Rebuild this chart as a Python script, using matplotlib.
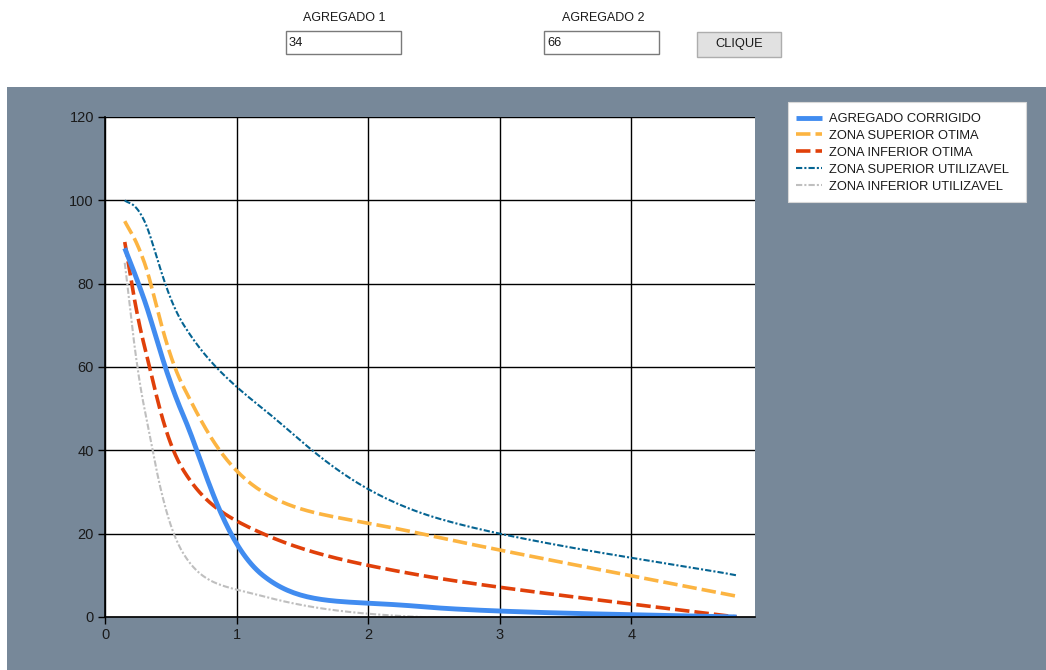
import numpy as np
import matplotlib
matplotlib.use("Agg")
import matplotlib.pyplot as plt
from matplotlib.patches import Rectangle

plt.rcParams["font.family"] = ["Liberation Sans", "DejaVu Sans"]

# ── Data ───────────────────────────────────────────────────────────────────────
peneiras = [0.15, 0.3, 0.6, 1.2, 2.4, 4.8]          # abertura (mm)
agregado_corrigido = [88.5, 76, 48, 10, 2.5, 0]
zona_sup_otima = [95, 85, 55, 30, 20, 5]
zona_inf_otima = [90, 65, 35, 20, 10, 0]
zona_sup_utilizavel = [100, 95, 70, 50, 25, 10]
zona_inf_utilizavel = [85, 50, 15, 5, 0, 0]

agregado_1 = "34"
agregado_2 = "66"

W, H = 1046, 670


def cardinal_spline(x, y, tension=0.5, n=40):
    """Smooth curve drawn through the points, like a GDI+ DrawCurve."""
    p = np.column_stack([x, y]).astype(float)
    pts = [p[0]]
    k = tension / 3.0
    for i in range(len(p) - 1):
        prev = p[i - 1] if i > 0 else p[i]
        nxt = p[i + 2] if i + 2 < len(p) else p[i + 1]
        c1 = p[i] + k * (p[i + 1] - prev)
        c2 = p[i + 1] - k * (nxt - p[i])
        t = np.linspace(0, 1, n)[1:, None]
        seg = ((1 - t) ** 3) * p[i] + 3 * ((1 - t) ** 2) * t * c1 \
            + 3 * (1 - t) * t ** 2 * c2 + t ** 3 * p[i + 1]
        pts.extend(seg)
    pts = np.array(pts)
    return pts[:, 0], pts[:, 1]


fig = plt.figure(figsize=(W / 100, H / 100), dpi=100, facecolor="white")

# ── Form background (panel, text boxes, button) ───────────────────────────────
bg = fig.add_axes([0, 0, 1, 1], zorder=0)
bg.set_xlim(0, W)
bg.set_ylim(H, 0)
bg.axis("off")
bg.add_patch(Rectangle((7, 87), W - 7, H - 87, facecolor="#778899", edgecolor="none"))

bg.text(344, 18, "AGREGADO 1", ha="center", va="center", fontsize=9, color="#1a1a1a")
bg.text(603, 18, "AGREGADO 2", ha="center", va="center", fontsize=9, color="#1a1a1a")
for x0, val in [(286, agregado_1), (544, agregado_2)]:
    bg.add_patch(Rectangle((x0, 31), 115, 23, facecolor="white", edgecolor="#7a7a7a", lw=1))
    bg.text(x0 + 3, 43, val, ha="left", va="center", fontsize=9.3, color="#1a1a1a")
bg.add_patch(Rectangle((697, 32), 84, 25, facecolor="#e1e1e1", edgecolor="#adadad", lw=1))
bg.text(739, 44.5, "CLIQUE", ha="center", va="center", fontsize=9.3, color="#1a1a1a")

# legend frame (wider than matplotlib's own padding)
bg.add_patch(Rectangle((788, 102), 238, 100, facecolor="white", edgecolor="#d8d8d8", lw=0.8))

# ── Chart ─────────────────────────────────────────────────────────────────────
ax = fig.add_axes([105 / W, 1 - 617 / H, 650 / W, 500 / H], zorder=1)
ax.set_facecolor("white")

series = [
    (agregado_corrigido, "AGREGADO CORRIGIDO", "#418CF0", 3.5, "-"),
    (zona_sup_otima, "ZONA SUPERIOR OTIMA", "#FCB441", 2.6, (0, (4, 1.4))),
    (zona_inf_otima, "ZONA INFERIOR OTIMA", "#E0400A", 2.6, (0, (4, 1.4))),
    (zona_sup_utilizavel, "ZONA SUPERIOR UTILIZAVEL", "#056492", 1.5, (0, (3, 1, 1, 1))),
    (zona_inf_utilizavel, "ZONA INFERIOR UTILIZAVEL", "#BFBFBF", 1.5, (0, (3, 1, 1, 1))),
]
for vals, label, color, lw, ls in reversed(series):
    sx, sy = cardinal_spline(peneiras, vals)
    ax.plot(sx, sy, color=color, lw=lw, ls=ls, label=label, solid_capstyle="butt")

ax.set_xlim(0, 4.94)
ax.set_ylim(0, 120)
ax.set_xticks([0, 1, 2, 3, 4])
ax.set_yticks([0, 20, 40, 60, 80, 100, 120])
ax.grid(True, color="black", lw=1)
for side in ["top", "right"]:
    ax.spines[side].set_visible(False)
for side in ["left", "bottom"]:
    ax.spines[side].set_color("black")
    ax.spines[side].set_linewidth(1.2)
ax.tick_params(direction="out", length=5, width=1, color="black",
               labelsize=10.5, labelcolor="#1a1a1a", pad=3)

handles, labels = ax.get_legend_handles_labels()
leg = ax.legend(handles[::-1], labels[::-1], loc="upper left",
                bbox_to_anchor=(796 / W, 1 - 113 / H), bbox_transform=fig.transFigure,
                fontsize=9.3, frameon=False, handlelength=2.0, handletextpad=0.55,
                labelspacing=0.38, borderpad=0, borderaxespad=0)
for t in leg.get_texts():
    t.set_color("#1a1a1a")

fig.savefig("out.png", dpi=100)
